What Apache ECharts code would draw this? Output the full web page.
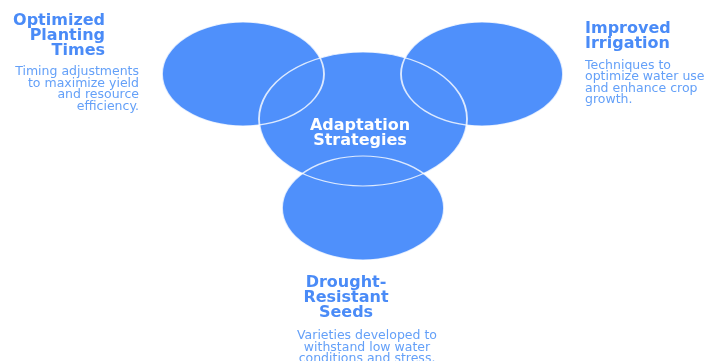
<!DOCTYPE html>
<html>
<head>
<meta charset="utf-8">
<script src="https://cdn.jsdelivr.net/npm/echarts@6/dist/echarts.min.js"></script>
<style>
  html, body { margin: 0; padding: 0; background: #fff; }
  #chart { width: 706px; height: 361px; }
</style>
</head>
<body>
<div id="chart"></div>
<script>
// nodes of the diagram
const nodeNames = ['Optimized\nPlanting\nTimes', 'Improved\nIrrigation', 'Adaptation\nStrategies', 'Drought-\nResistant\nSeeds'];
const nodeNotes = [
  'Timing adjustments\nto maximize yield\nand resource\nefficiency.',
  'Techniques to\noptimize water use\nand enhance crop\ngrowth.',
  '',
  'Varieties developed to\nwithstand low water\nconditions and stress.'
];
// ellipse centres and sizes (in the 706x361 frame)
const nodeX = [243, 482, 363, 363];
const nodeY = [74, 74, 119, 208];
const nodeW = [162, 162, 208, 162];
const nodeH = [104, 104, 134, 104];
// where the outer labels sit
const titleX = [105, 585, 360, 346];
const titleY = [13.5, 21.5, 118.5, 275.5];
const titleAlign = ['right', 'left', 'center', 'center'];
const noteX = [139, 585, null, 367];
const noteY = [66, 59.5, null, 330];
const noteAlign = ['right', 'left', 'center', 'center'];

const FILL = '#4f90fb';
const TITLE = '#4a8bf7';
const NOTE = '#64a0f8';

let chart = echarts.init(document.getElementById('chart'));

let ellipses = nodeX.map((x, i) => ({ value: [x, nodeY[i]], symbolSize: [nodeW[i], nodeH[i]] }));

let titles = nodeNames.map((n, i) => ({
  value: [titleX[i], titleY[i]],
  label: {
    formatter: n,
    align: titleAlign[i],
    color: i === 2 ? '#ffffff' : TITLE
  }
}));

let notes = [];
nodeNotes.forEach((n, i) => {
  if (!n) return;
  notes.push({
    value: [noteX[i], noteY[i]],
    label: { formatter: n, align: noteAlign[i] }
  });
});

chart.setOption({
  animation: false,
  grid: { left: 0, right: 0, top: 0, bottom: 0 },
  xAxis: { type: 'value', min: 0, max: 706, show: false },
  yAxis: { type: 'value', min: 0, max: 361, inverse: true, show: false },
  series: [
    {
      type: 'scatter',
      symbol: 'circle',
      data: ellipses,
      itemStyle: { color: FILL, opacity: 1 },
      z: 1,
      silent: true
    },
    {
      type: 'scatter',
      symbol: 'circle',
      data: ellipses,
      itemStyle: { color: 'rgba(0,0,0,0)', borderColor: 'rgba(255,255,255,0.8)', borderWidth: 1.5, opacity: 1 },
      z: 2,
      silent: true
    },
    {
      type: 'scatter',
      symbolSize: 0,
      data: titles,
      z: 3,
      itemStyle: { opacity: 1 },
      label: {
        show: true,
        position: 'inside',
        verticalAlign: 'top',
        fontFamily: 'DejaVu Sans',
        fontWeight: 'bold',
        fontSize: 16,
        lineHeight: 15
      },
      silent: true
    },
    {
      type: 'scatter',
      symbolSize: 0,
      data: notes,
      z: 3,
      itemStyle: { opacity: 1 },
      label: {
        show: true,
        position: 'inside',
        verticalAlign: 'top',
        fontFamily: 'DejaVu Sans',
        fontSize: 12.5,
        lineHeight: 11.5,
        color: NOTE
      },
      silent: true
    }
  ]
});
</script>
</body>
</html>
